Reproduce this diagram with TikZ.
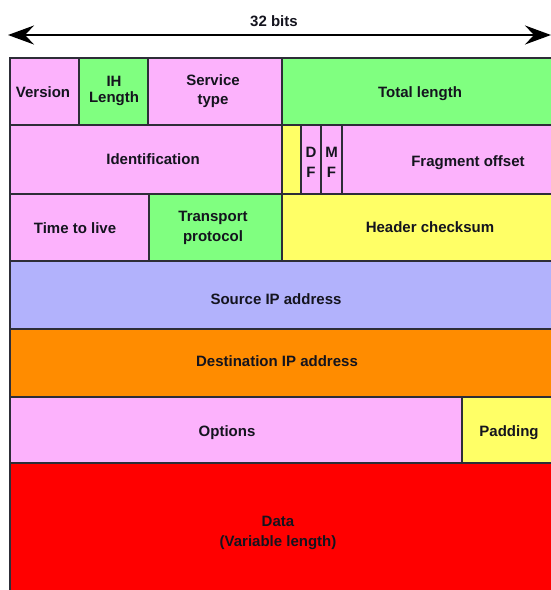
\documentclass[tikz,border=0pt]{standalone}
\usepackage{fontspec}
\setmainfont{Liberation Sans}
\usetikzlibrary{arrows.meta}

\definecolor{fpink}{RGB}{252,178,252}
\definecolor{fgreen}{RGB}{128,255,128}
\definecolor{fyellow}{RGB}{255,255,102}
\definecolor{flav}{RGB}{178,178,252}
\definecolor{forange}{RGB}{255,140,0}
\definecolor{fred}{RGB}{255,0,0}
\definecolor{edge}{RGB}{45,45,55}
\definecolor{ink}{RGB}{20,20,30}

\tikzset{
  cell/.style={rectangle, draw=edge, line width=1.9pt, anchor=north west,
    inner sep=0pt, outer sep=0pt},
  lbl2/.style={font=\fontsize{15}{19}\selectfont\bfseries, text=ink,
    align=center, inner sep=0pt},
  lbl/.style={lbl2, text height=10.8pt, text depth=0pt},
  bits/.style={line width=2.2pt, black,
    {Stealth[length=26pt,width=19pt,inset=9pt]}-{Stealth[length=26pt,width=19pt,inset=9pt]}}
}

\begin{document}
\begin{tikzpicture}[x=1pt,y=-1pt]
\useasboundingbox (0,0) rectangle (551,590);
\begin{scope}
\clip (0,0) rectangle (551,590);

% word width marker
\coordinate (wl) at (8,35);
\coordinate (wr) at (551,35);
\draw[bits] (wl) -- (wr);

% row 1
\node[cell, fill=fpink,  minimum width=69pt,  minimum height=67pt] (ver) at (10,58) {};
\node[cell, fill=fgreen, minimum width=69pt,  minimum height=67pt] (ihl) at (79,58) {};
\node[cell, fill=fpink,  minimum width=134pt, minimum height=67pt] (tos) at (148,58) {};
\node[cell, fill=fgreen, minimum width=290pt, minimum height=67pt] (tlen) at (282,58) {};

% row 2
\node[cell, fill=fpink,   minimum width=272pt, minimum height=69pt] (ident) at (10,125) {};
\node[cell, fill=fyellow, minimum width=19pt,  minimum height=69pt] (resv) at (282,125) {};
\node[cell, fill=fpink,   minimum width=20pt,  minimum height=69pt] (df) at (301,125) {};
\node[cell, fill=fpink,   minimum width=21pt,  minimum height=69pt] (mf) at (321,125) {};
\node[cell, fill=fpink,   minimum width=230pt, minimum height=69pt] (frag) at (342,125) {};

% row 3
\node[cell, fill=fpink,   minimum width=139pt, minimum height=67pt] (ttl) at (10,194) {};
\node[cell, fill=fgreen,  minimum width=133pt, minimum height=67pt] (proto) at (149,194) {};
\node[cell, fill=fyellow, minimum width=290pt, minimum height=67pt] (csum) at (282,194) {};

% rows 4 and 5
\node[cell, fill=flav,    minimum width=562pt, minimum height=68pt] (src) at (10,261) {};
\node[cell, fill=forange, minimum width=562pt, minimum height=68pt] (dst) at (10,329) {};

% row 6
\node[cell, fill=fpink,   minimum width=452pt, minimum height=66pt] (opt) at (10,397) {};
\node[cell, fill=fyellow, minimum width=110pt, minimum height=66pt] (pad) at (462,397) {};

% payload
\node[cell, fill=fred, minimum width=562pt, minimum height=140pt] (data) at (10,463) {};
\end{scope}

% field names
\node[lbl] (wlabel) at (274,21.5) {32 bits};
\node[lbl] (tver)   at (43,91.7)  {Version};
\node[lbl2, font=\fontsize{15}{16.6}\selectfont\bfseries] (tihl) at (114,91) {IH\\Length};
\node[lbl2] (ttos)  at (213,91)   {Service\\type};
\node[lbl] (ttlen)  at (420,91.7) {Total length};
\node[lbl] (tident) at (153,159)  {Identification};
\node[lbl2, font=\fontsize{15}{20}\selectfont\bfseries] (tdf) at (311,162) {D\\F};
\node[lbl2, font=\fontsize{15}{20}\selectfont\bfseries] (tmf) at (331.5,162) {M\\F};
\node[lbl] (tfrag)  at (468,160.7) {Fragment offset};
\node[lbl] (tttl)   at (75,228.3) {Time to live};
\node[lbl2, font=\fontsize{15}{19.7}\selectfont\bfseries] (tproto) at (213,228) {Transport\\protocol};
\node[lbl] (tcsum)  at (430,226.7) {Header checksum};
\node[lbl] (tsrc)   at (276,299)  {Source IP address};
\node[lbl] (tdst)   at (277,361)  {Destination IP address};
\node[lbl] (topt)   at (227,430.7) {Options};
\node[lbl] (tpad)   at (509,430.7) {Padding};
\node[lbl2, font=\fontsize{15}{20}\selectfont\bfseries] (tdata) at (278,533) {Data\\(Variable length)};
\end{tikzpicture}
\end{document}
